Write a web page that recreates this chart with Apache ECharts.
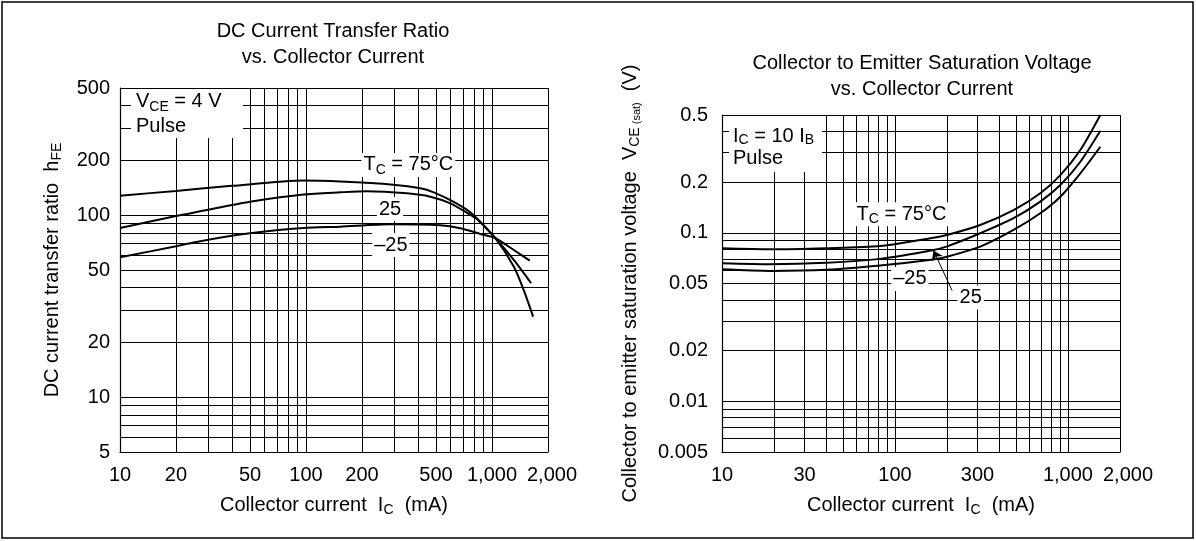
<!DOCTYPE html>
<html><head><meta charset="utf-8">
<script src="https://cdn.jsdelivr.net/npm/echarts@6/dist/echarts.min.js"></script>
<style>html,body{margin:0;padding:0;background:#fff}#c{width:1196px;height:541px}</style>
</head><body><div id="c"></div>
<script>
// ---------- Left chart: DC current transfer ratio hFE vs collector current ----------
const hfeIc75  = [10, 20, 40, 97, 153, 294, 412, 486, 597, 734, 831, 1043, 1309, 1481, 1664];
const hfe75    = [128, 136, 145, 155, 153, 147, 140.6, 133.6, 121, 107, 96, 74.7, 52.2, 38.8, 27.7];
const hfeIc25  = [10, 20, 27, 50, 97, 153, 212, 349, 466, 597, 734, 831, 1043, 1309, 1623];
const hfe25    = [85, 99, 105, 118.5, 130, 133.6, 135.5, 131.9, 126.4, 116.2, 103, 95, 74.7, 56.8, 42.3];
const hfeIcM25 = [10, 20, 27, 50, 97, 153, 284, 527, 676, 866, 1043, 1309, 1596];
const hfeM25   = [58.7, 67.5, 72, 79.5, 85, 86.5, 89.2, 88, 84.8, 78.9, 74.7, 64.4, 56.3];

// ---------- Right chart: VCE(sat) vs collector current ----------
const satIc   = [10, 19, 40, 82, 167, 200, 311, 485, 692, 904, 1180, 1540];
const vce75   = [0.0809, 0.0798, 0.081, 0.0835, 0.0935, 0.097, 0.1112, 0.1364, 0.1715, 0.220, 0.31, 0.5];
const vce25   = [0.0659, 0.065, 0.0663, 0.070, 0.079, 0.083, 0.0993, 0.122, 0.153, 0.192, 0.264, 0.403];
const vceM25  = [0.0607, 0.0594, 0.0603, 0.064, 0.0695, 0.0721, 0.0827, 0.1039, 0.1305, 0.1637, 0.2254, 0.324];

// ---------- Tick labels and grid values ----------
const hfeXLabels = [10, 20, 50, 100, 200, 500, 1000, 2000];
const hfeYLabels = [5, 10, 20, 50, 100, 200, 500];
const satXLabels = [10, 30, 100, 300, 1000, 2000];
const satYLabels = [0.005, 0.01, 0.02, 0.05, 0.1, 0.2, 0.5];
const currentGrid = [10, 20, 30, 40, 50, 60, 70, 80, 90, 100, 200, 300, 400, 500, 600, 700, 800, 900, 1000, 2000];
const hfeGrid = [5, 6, 7, 8, 9, 10, 20, 30, 40, 50, 60, 70, 80, 90, 100, 200, 300, 400, 500];
const vceGrid = [0.005, 0.006, 0.007, 0.008, 0.009, 0.01, 0.02, 0.03, 0.04, 0.05, 0.06, 0.07, 0.08, 0.09, 0.1, 0.2, 0.3, 0.4, 0.5];

// Curve annotations [x, y, text]
const hfeNotes = [[355, 189, '{m|T}{sub|C}{m| = 75°C}'], [283, 108, '{m|25}'], [286, 68.5, '{m|–25}']];
const satNotes = [[109, 0.129, '{m|T}{sub|C}{m| = 75°C}'], [122, 0.0532, '{m|–25}'], [274, 0.0413, '{m|25}']];
const satArrow = [[214, 0.0454], [167, 0.0785]];

const FONT = "'Liberation Sans', Arial, Helvetica, sans-serif";
const FS = 20;
const richBase = {
  m: { fontSize: FS, fontFamily: FONT, color: '#000', lineHeight: 24 },
  sub: { fontSize: 14, fontFamily: FONT, color: '#000', lineHeight: 14, verticalAlign: 'bottom' },
  sub2: { fontSize: 11, fontFamily: FONT, color: '#000', lineHeight: 14, verticalAlign: 'bottom' }
};
const zip = (a, b) => a.map((v, i) => [v, b[i]]);
const numText = v => { const n = +(+v).toPrecision(6); return n >= 1000 ? n.toLocaleString('en-US') : String(n); };
// the last x label (2,000) sits slightly right of its gridline in the original
const xFmt = () => v => (+(+v).toPrecision(6) === 2000 ? '{e|' + numText(v) + '}' : numText(v));
const labelRich = pad => ({ e: { fontSize: FS, fontFamily: FONT, color: '#000', padding: [0, 0, 0, pad] } });

function axis(gridIndex, min, max, labels, grid, margin, opts, fmt, rich) {
  return Object.assign({
    type: 'log', logBase: 10, gridIndex, min, max,
    axisLine: { show: true, onZero: false, lineStyle: { color: '#000', width: 1.2 } },
    axisTick: { show: false, customValues: grid },
    axisLabel: { customValues: labels, formatter: fmt || numText, rich: rich, color: '#000', fontSize: FS, fontFamily: FONT, margin },
    splitLine: { show: true, lineStyle: { color: '#000', width: 1 } },
    nameLocation: 'middle',
    nameTextStyle: { fontSize: FS, fontFamily: FONT, color: '#000', lineHeight: 24, rich: richBase }
  }, opts);
}

function curve(xi, yi, data, extra) {
  return Object.assign({
    type: 'line', xAxisIndex: xi, yAxisIndex: yi, data, showSymbol: false, symbol: 'none',
    smooth: 0.25, lineStyle: { color: '#000', width: 2 }, z: 5, silent: true, animation: false
  }, extra || {});
}

function notes(list) {
  return {
    symbol: 'rect', symbolSize: 0, silent: true,
    data: list.map(n => ({
      coord: [n[0], n[1]],
      label: { show: true, position: 'inside', formatter: n[2], rich: richBase, backgroundColor: '#fff', padding: [0, 2], color: '#000' }
    }))
  };
}

const chart = echarts.init(document.getElementById('c'), null, { renderer: 'canvas' });
chart.setOption({
  animation: false,
  backgroundColor: '#fff',
  grid: [
    { left: 120, top: 88, width: 428, height: 364 },
    { left: 722, top: 115, width: 398, height: 337 }
  ],
  xAxis: [
    axis(0, 10, 2000, hfeXLabels, currentGrid, 13, { name: 'Collector current  I{sub|C}  (mA)', nameGap: 41 }, xFmt(), labelRich(8)),
    axis(1, 10, 2000, satXLabels, currentGrid, 13, { name: 'Collector current  I{sub|C}  (mA)', nameGap: 41 }, xFmt(), labelRich(16))
  ],
  yAxis: [
    axis(0, 5, 500, hfeYLabels, hfeGrid, 10, { name: 'DC current transfer ratio  h{sub|FE}', nameGap: 56 }),
    axis(1, 0.005, 0.5, satYLabels, vceGrid, 14, { name: 'Collector to emitter saturation voltage  V{sub|CE}{sub2| (sat)}  (V)', nameGap: 80 })
  ],
  series: [
    curve(0, 0, zip(hfeIc75, hfe75), { markPoint: notes(hfeNotes) }),
    curve(0, 0, zip(hfeIc25, hfe25)),
    curve(0, 0, zip(hfeIcM25, hfeM25)),
    curve(1, 1, zip(satIc, vce75), { markPoint: notes(satNotes) }),
    curve(1, 1, zip(satIc, vce25), {
      markLine: {
        silent: true, symbolSize: 9, label: { show: false },
        lineStyle: { color: '#000', width: 1, type: 'solid' },
        data: [[{ coord: satArrow[0], symbol: 'none' }, { coord: satArrow[1], symbol: 'arrow' }]]
      }
    }),
    curve(1, 1, zip(satIc, vceM25))
  ],
  graphic: [
    { type: 'rect', shape: { x: 2, y: 2, width: 1191, height: 536 }, style: { fill: 'none', stroke: '#000', lineWidth: 1.5 }, z: 100 },
    { type: 'text', x: 333, y: 44, style: { text: 'DC Current Transfer Ratio\nvs. Collector Current', fontSize: FS, fontFamily: FONT, fill: '#000', align: 'center', verticalAlign: 'middle', lineHeight: 26 } },
    { type: 'text', x: 922, y: 76, style: { text: 'Collector to Emitter Saturation Voltage\nvs. Collector Current', fontSize: FS, fontFamily: FONT, fill: '#000', align: 'center', verticalAlign: 'middle', lineHeight: 26 } },
    { type: 'rect', shape: { x: 131, y: 89, width: 112, height: 49 }, style: { fill: '#fff' }, z: 50 },
    { type: 'text', x: 136, y: 89, z: 51, style: { text: '{m|V}{sub|CE}{m| = 4 V}\n{m|Pulse}', rich: { m: { fontSize: FS, fontFamily: FONT, fill: '#000', lineHeight: 25 }, sub: { fontSize: 14, fontFamily: FONT, fill: '#000', lineHeight: 14, verticalAlign: 'bottom' } } } },
    { type: 'rect', shape: { x: 729, y: 116, width: 93, height: 56 }, style: { fill: '#fff' }, z: 50 },
    { type: 'text', x: 733, y: 125, z: 51, style: { text: '{m|I}{sub|C}{m| = 10 I}{sub|B}\n{m|Pulse}', rich: { m: { fontSize: FS, fontFamily: FONT, fill: '#000', lineHeight: 22 }, sub: { fontSize: 14, fontFamily: FONT, fill: '#000', lineHeight: 14, verticalAlign: 'bottom' } } } }
  ]
});
</script></body></html>
